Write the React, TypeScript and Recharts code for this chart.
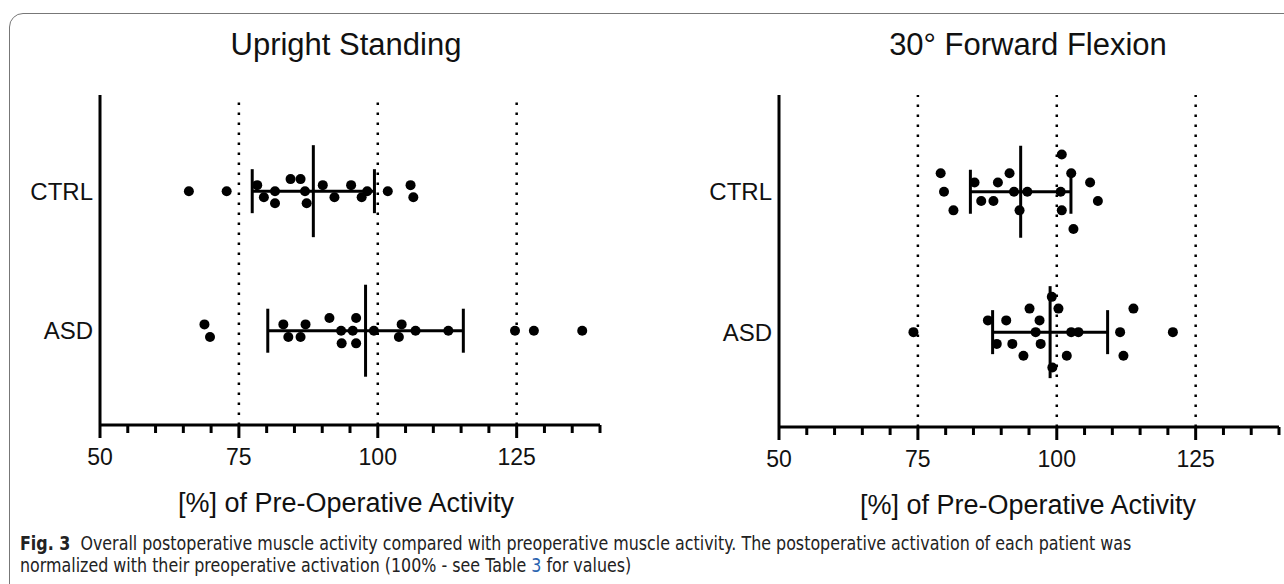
import React from "react";
import { ErrorBar, ReferenceLine, Scatter, ScatterChart, XAxis, YAxis } from "recharts";

// x axis
const xTicks = [50, 55, 60, 65, 70, 75, 80, 85, 90, 95, 100, 105, 110, 115, 120, 125, 130, 135, 140];
const labeledTicks = [50, 75, 100, 125];
const dottedRefs = [75, 100, 125];

// categories (row position on a numeric y axis)
const groups = ["ASD", "CTRL"];
const rowPos: Record<string, number> = { ASD: 1, CTRL: 2.48 };

// Upright Standing: values and jitter lanes
const uprightCtrl = [66, 72.8, 78.3, 79.5, 81.5, 81.5, 84.3, 86.1, 86.9, 87.2, 90.1, 92.2, 95.2, 97.1, 98.1, 101.8, 105.9, 106.4];
const uprightCtrlLane = [0, 0, -1, 1, 0, 2, -2, -2, 0, 2, -1, 1, -1, 1, 0, 0, -1, 1];
const uprightAsd = [68.8, 69.8, 83.0, 83.9, 86.1, 87.0, 91.3, 93.4, 93.5, 95.5, 96.1, 96.1, 99.3, 103.8, 104.3, 106.8, 112.7, 124.7, 128.1, 136.8];
const uprightAsdLane = [-1, 1, -1, 1, 1, -1, -2, 0, 2, 0, -2, 2, 0, 1, -1, 0, 0, 0, 0, 0];

// 30° Forward Flexion
const flexCtrl = [79.1, 79.7, 81.4, 85.2, 86.4, 88.6, 89.4, 91.5, 92.3, 93.3, 94.7, 100.9, 100.7, 100.9, 102.6, 103.0, 106.0, 107.4];
const flexCtrlLane = [-2, 0, 2, -1, 1, 1, -1, -2, 0, 2, 0, -4, 0, 2, -2, 4, -1, 1];
const flexAsd = [74.2, 87.6, 89.2, 90.9, 92.0, 94.0, 95.1, 96.2, 96.9, 97.1, 99.1, 99.2, 100.3, 101.8, 102.6, 103.9, 111.4, 112.0, 113.8, 120.9];
const flexAsdLane = [0, -1, 1, -1, 1, 2, -2, 0, -1, 1, -3, 3, -2, 2, 0, 0, 0, 2, -2, 0];

// mean ± SD
const uprightMean = [97.8, 88.4];
const uprightSd = [17.6, 11.0];
const flexMean = [98.8, 93.5];
const flexSd = [10.35, 9.05];

const FONT = "'Liberation Sans', Arial, Helvetica, sans-serif";

const toPoints = (vals: number[], lanes: number[], row: number, spread: number) =>
  vals.map((v, i) => ({ x: v, y: row - lanes[i] * spread }));

const XTick = (props: any) => {
  const { x, y, payload } = props;
  const major = labeledTicks.includes(payload.value);
  return (
    <g>
      <line x1={x} x2={x} y1={y} y2={y + (major ? 13 : 8)} stroke="#000" strokeWidth={3} />
      {major && (
        <text x={x} y={y + 40} textAnchor="middle" fontSize={23} fill="#111" fontFamily={FONT}>
          {payload.value}
        </text>
      )}
    </g>
  );
};

const Dot = (p: any) => <circle cx={p.cx} cy={p.cy} r={5} fill="#000" />;
const MeanLine = (p: any) => (
  <line x1={p.cx} x2={p.cx} y1={p.cy - 46} y2={p.cy + 46} stroke="#000" strokeWidth={3} />
);

function Panel({
  ctrl,
  asd,
  means,
  sds,
  yAxisWidth,
  rightMargin,
  xAxisHeight,
}: {
  ctrl: { x: number; y: number }[];
  asd: { x: number; y: number }[];
  means: number[];
  sds: number[];
  yAxisWidth: number;
  rightMargin: number;
  xAxisHeight: number;
}) {
  const meanData = groups.map((g, i) => ({ x: means[i], y: rowPos[g], sd: sds[i] }));
  return (
    <ScatterChart
      width={yAxisWidth + 500 + rightMargin}
      height={480}
      margin={{ top: 95, right: rightMargin, bottom: 0, left: 0 }}
      style={{ fontFamily: FONT }}
    >
      <XAxis
        type="number"
        dataKey="x"
        domain={[50, 140]}
        ticks={xTicks}
        interval={0}
        allowDataOverflow
        height={xAxisHeight}
        tickSize={0}
        tickMargin={0}
        tickLine={false}
        tick={<XTick />}
        axisLine={{ stroke: "#000", strokeWidth: 3 }}
      />
      <YAxis
        type="number"
        dataKey="y"
        domain={[0, 3.5]}
        ticks={groups.map((g) => rowPos[g])}
        tickFormatter={(v: number) => groups.find((g) => rowPos[g] === v) ?? ""}
        width={yAxisWidth}
        tickSize={0}
        tickMargin={7}
        tickLine={false}
        tick={{ fontSize: 24, fill: "#111", fontFamily: FONT }}
        axisLine={{ stroke: "#000", strokeWidth: 3 }}
      />
      {dottedRefs.map((v) => (
        <ReferenceLine key={v} x={v} stroke="#000" strokeWidth={2.5} strokeDasharray="2.5 7.5" />
      ))}
      <Scatter data={ctrl} shape={<Dot />} isAnimationActive={false} />
      <Scatter data={asd} shape={<Dot />} isAnimationActive={false} />
      <Scatter data={meanData} shape={<MeanLine />} isAnimationActive={false}>
        <ErrorBar dataKey="sd" direction="x" width={22} strokeWidth={3} stroke="#000" isAnimationActive={false} />
      </Scatter>
    </ScatterChart>
  );
}

export default function App() {
  // lane spacing in y-axis units (one unit ≈ 94 px)
  const upCtrl = toPoints(uprightCtrl, uprightCtrlLane, rowPos.CTRL, 0.064);
  const upAsd = toPoints(uprightAsd, uprightAsdLane, rowPos.ASD, 0.067);
  const fxCtrl = toPoints(flexCtrl, flexCtrlLane, rowPos.CTRL, 0.098);
  const fxAsd = toPoints(flexAsd, flexAsdLane, rowPos.ASD, 0.124);

  const title: React.CSSProperties = {
    position: "absolute",
    fontFamily: FONT,
    fontSize: 31,
    color: "#111",
    textAlign: "center",
    width: 560,
    lineHeight: "36px",
  };
  const axisTitle: React.CSSProperties = { ...title, fontSize: 27, lineHeight: "32px" };

  return (
    <div style={{ position: "absolute", left: 0, top: 0, width: 1284, height: 584, overflow: "hidden", background: "#fff" }}>
      <div
        style={{
          position: "absolute",
          left: 9,
          top: 13,
          width: 1300,
          height: 620,
          border: "1.5px solid #777",
          borderTopLeftRadius: 14,
        }}
      />
      <div style={{ position: "absolute", left: 0, top: 0 }}>
        <Panel ctrl={upCtrl} asd={upAsd} means={uprightMean} sds={uprightSd} yAxisWidth={100} rightMargin={7} xAxisHeight={55} />
      </div>
      <div style={{ position: "absolute", left: 680, top: 0 }}>
        <Panel ctrl={fxCtrl} asd={fxAsd} means={flexMean} sds={flexSd} yAxisWidth={99} rightMargin={8} xAxisHeight={53} />
      </div>
      <div style={{ ...title, left: 346 - 280, top: 27 }}>Upright Standing</div>
      <div style={{ ...title, left: 1028 - 280, top: 27 }}>30° Forward Flexion</div>
      <div style={{ ...axisTitle, left: 346 - 280, top: 487 }}>[%] of Pre-Operative Activity</div>
      <div style={{ ...axisTitle, left: 1028 - 280, top: 489 }}>[%] of Pre-Operative Activity</div>
      <div
        style={{
          position: "absolute",
          left: 20,
          top: 533,
          width: 1500,
          fontFamily: "'DejaVu Sans', sans-serif",
          fontSize: 19.5,
          lineHeight: "22px",
          color: "#222",
          whiteSpace: "nowrap",
          transform: "scaleX(0.815)",
          transformOrigin: "left top",
        }}
      >
        <b>Fig. 3</b>&nbsp; Overall postoperative muscle activity compared with preoperative muscle activity. The postoperative
        activation of each patient was
        <br />
        normalized with their preoperative activation (100% - see Table <span style={{ color: "#2a64b0" }}>3</span> for values)
      </div>
    </div>
  );
}
